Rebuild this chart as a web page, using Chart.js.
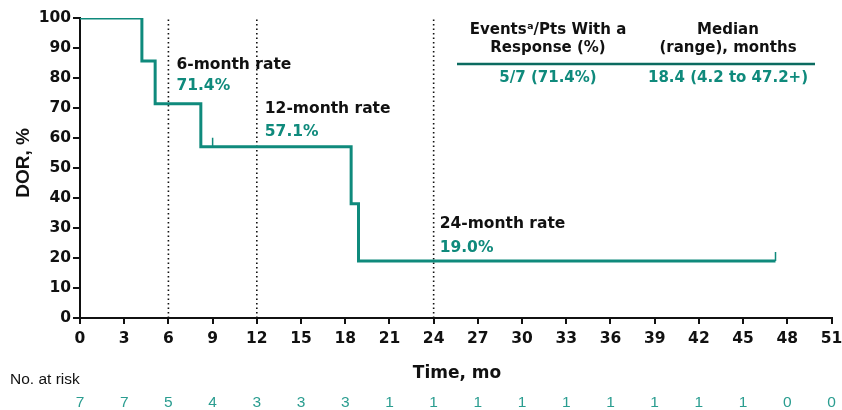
<!DOCTYPE html>
<html>
<head>
<meta charset="utf-8">
<script src="https://cdn.jsdelivr.net/npm/chart.js@4.4.1/dist/chart.umd.min.js"></script>
<style>
  html, body { margin: 0; padding: 0; background: #fff; }
  #wrap { width: 842px; height: 410px; position: relative; }
</style>
</head>
<body>
<div id="wrap"><canvas id="km" width="842" height="410"></canvas></div>
<script>
// Kaplan-Meier estimate of duration of response (event times in months, DOR %)
const eventTimes = [0, 4.2, 5.1, 8.2, 18.4, 18.9, 47.2];
const dorValues  = [100, 85.7, 71.4, 57.1, 38.1, 19.0, 19.0];

// Censored observations
const censorTimes = [9.0, 47.2];
const censorDor   = [57.1, 19.0];

// Landmark rates
const landmarkMonths = [6, 12, 24];
const landmarkRates  = [71.4, 57.1, 19.0];

// Axis ticks and number at risk
const timeTicks = [0, 3, 6, 9, 12, 15, 18, 21, 24, 27, 30, 33, 36, 39, 42, 45, 48, 51];
const atRisk    = [7, 7, 5, 4, 3, 3, 3, 1, 1, 1, 1, 1, 1, 1, 1, 1, 0, 0];
const dorTicks  = [0, 10, 20, 30, 40, 50, 60, 70, 80, 90, 100];

// Summary table
const summaryHeaders = [["Events\u1d43/Pts With a", "Response (%)"], ["Median", "(range), months"]];
const summaryValues  = ["5/7 (71.4%)", "18.4 (4.2 to 47.2+)"];

const TEAL = '#0f8a7c';
const TEAL_DARK = '#0b6b60';
const TEAL_LIGHT = '#2a9d90';
const BOLD = '"DejaVu Sans", sans-serif';
const ARIAL = '"Liberation Sans", Arial, sans-serif';

const kmPoints = eventTimes.map((t, i) => ({ x: t, y: dorValues[i] }));
const censorPoints = censorTimes.map((t, i) => ({ x: t, y: censorDor[i] }));
const landmarkSets = landmarkMonths.map(m => ({
  data: [{ x: m, y: 0 }, { x: m, y: 100 }],
  borderColor: '#111',
  borderWidth: 1.6,
  borderDash: [1.5, 3],
  pointRadius: 0,
  fill: false,
  order: 3
}));

// Annotation placement (y in axis units, x offset in px from landmark)
const landmarkLabelPos = [
  { dx: 8, yTitle: 84.2, yRate: 77.2 },
  { dx: 8, yTitle: 69.8, yRate: 62.1 },
  { dx: 6, yTitle: 31.2, yRate: 23.5 }
];

const overlay = {
  id: 'overlay',
  afterDraw(chart) {
    const { ctx, scales: { x, y } } = chart;
    ctx.save();
    ctx.textBaseline = 'middle';

    // landmark rate labels
    landmarkMonths.forEach((m, i) => {
      const p = landmarkLabelPos[i];
      const px = x.getPixelForValue(m) + p.dx;
      ctx.textAlign = 'left';
      ctx.font = 'bold 15.5px ' + BOLD;
      ctx.fillStyle = '#111';
      ctx.fillText(m + '-month rate', px, y.getPixelForValue(p.yTitle));
      ctx.fillStyle = TEAL;
      ctx.fillText(landmarkRates[i].toFixed(1) + '%', px, y.getPixelForValue(p.yRate));
    });

    // summary table
    const cols = [548, 728];
    ctx.textAlign = 'center';
    ctx.font = 'bold 15px ' + BOLD;
    ctx.fillStyle = '#111';
    summaryHeaders.forEach((lines, c) => {
      lines.forEach((ln, r) => ctx.fillText(ln, cols[c], 30 + r * 18));
    });
    ctx.strokeStyle = TEAL_DARK;
    ctx.lineWidth = 2.5;
    ctx.beginPath();
    ctx.moveTo(457, 64);
    ctx.lineTo(815, 64);
    ctx.stroke();
    ctx.fillStyle = TEAL;
    summaryValues.forEach((v, c) => ctx.fillText(v, cols[c], 78));

    // axis titles
    ctx.fillStyle = '#111';
    ctx.font = 'bold 17px ' + BOLD;
    ctx.fillText('Time, mo', 457, 374);
    ctx.save();
    ctx.translate(24, 163);
    ctx.rotate(-Math.PI / 2);
    ctx.font = 'bold 19px ' + ARIAL;
    ctx.fillText('DOR, %', 0, 0);
    ctx.restore();

    // number at risk
    ctx.textAlign = 'left';
    ctx.font = '15.5px ' + ARIAL;
    ctx.fillStyle = '#111';
    ctx.fillText('No. at risk', 10, 380);
    ctx.textAlign = 'center';
    ctx.fillStyle = TEAL_LIGHT;
    timeTicks.forEach((t, i) => {
      ctx.fillText(String(atRisk[i]), x.getPixelForValue(t), 403);
    });
    ctx.restore();
  }
};

new Chart(document.getElementById('km'), {
  type: 'line',
  data: {
    datasets: [
      {
        data: kmPoints,
        stepped: 'before',
        borderColor: TEAL,
        borderWidth: 3,
        pointRadius: 0,
        fill: false,
        order: 1
      },
      {
        data: censorPoints,
        showLine: false,
        pointStyle: 'dash',
        rotation: 270,
        pointRadius: 9,
        pointBorderColor: TEAL,
        pointBorderWidth: 1.5,
        pointHoverRadius: 9,
        order: 0
      },
      ...landmarkSets
    ]
  },
  options: {
    responsive: false,
    animation: false,
    devicePixelRatio: 1,
    layout: { padding: { top: 18, right: 7, left: 0, bottom: 0 } },
    plugins: { legend: { display: false }, tooltip: { enabled: false } },
    scales: {
      x: {
        type: 'linear',
        min: 0, max: 51,
        afterBuildTicks(s) { s.ticks = timeTicks.map(v => ({ value: v })); },
        afterFit(s) { s.height = 92; s.paddingLeft = 0; s.paddingRight = 0; },
        border: { color: '#111', width: 2 },
        grid: { drawOnChartArea: false, drawTicks: true, tickLength: 6, color: '#111', lineWidth: 2 },
        ticks: { color: '#111', font: { family: BOLD, size: 15.5, weight: 'bold' }, padding: 6, maxRotation: 0, autoSkip: false }
      },
      y: {
        min: 0, max: 100,
        afterBuildTicks(s) { s.ticks = dorTicks.map(v => ({ value: v })); },
        afterFit(s) { s.width = 80; s.paddingTop = 0; s.paddingBottom = 0; },
        border: { color: '#111', width: 2 },
        grid: { drawOnChartArea: false, drawTicks: true, tickLength: 7, color: '#111', lineWidth: 2 },
        ticks: { color: '#111', font: { family: BOLD, size: 15.5, weight: 'bold' }, padding: 2 }
      }
    }
  },
  plugins: [overlay]
});
</script>
</body>
</html>
